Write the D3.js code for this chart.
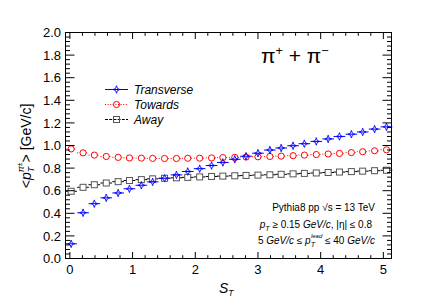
<!DOCTYPE html>
<html><head><meta charset="utf-8">
<script src="https://cdn.jsdelivr.net/npm/d3@7"></script>
<style>body{margin:0;background:#fff} svg{display:block} text{font-family:"Liberation Sans",Arial,Helvetica,sans-serif;fill:#000}</style>
</head><body><svg id="c" width="436" height="305"></svg>
<script>
// ---- data ----
const sT = [0.02,0.21,0.39,0.58,0.77,0.95,1.14,1.32,1.51,1.70,1.88,2.07,2.26,2.44,2.63,2.81,3.00,3.19,3.37,3.56,3.74,3.93,4.12,4.30,4.49,4.67,4.86,5.05];
const transverse = [0.13,0.405,0.485,0.537,0.58,0.617,0.648,0.678,0.71,0.74,0.77,0.795,0.823,0.85,0.878,0.905,0.932,0.96,0.978,0.998,1.016,1.036,1.058,1.08,1.10,1.12,1.145,1.165];
const towards = [0.97,0.935,0.915,0.903,0.895,0.89,0.888,0.886,0.885,0.885,0.887,0.888,0.89,0.893,0.895,0.898,0.90,0.903,0.906,0.91,0.915,0.92,0.925,0.93,0.937,0.945,0.953,0.962];
const away = [0.595,0.63,0.653,0.668,0.68,0.69,0.698,0.705,0.71,0.714,0.718,0.722,0.726,0.729,0.732,0.735,0.738,0.741,0.745,0.749,0.753,0.757,0.761,0.765,0.769,0.773,0.777,0.781];
const binWidth = 0.1857;
const xTickLabels = [0,1,2,3,4,5];
const yTickLabels = [0,0.2,0.4,0.6,0.8,1.0,1.2,1.4,1.6,1.8,2.0];
const seriesNames = ["Transverse","Towards","Away"];

// ---- layout ----
const L=65.5, R=391.5, T=32.5, B=258.5;
const svg = d3.select("#c");
const x = d3.scaleLinear().domain([-0.07,5.13]).range([L,R]);
const y = d3.scaleLinear().domain([0,2]).range([B,T]);

const series = [
  {name:seriesNames[0], vals:transverse, color:"#0000ff", dash:null, marker:"diamond", gap:false},
  {name:seriesNames[1], vals:towards, color:"#ff0000", dash:"1,1.6", marker:"circle", gap:true},
  {name:seriesNames[2], vals:away, color:"#000", dash:"3,1.2", marker:"square", gap:true}
];

function drawMarker(g, type, cx, cy, color){
  if(type==="diamond"){
    g.append("path").attr("d",`M${cx},${cy-3.8}L${cx+1},${cy-1}L${cx+3.4},${cy}L${cx+1},${cy+1}L${cx},${cy+3.8}L${cx-1},${cy+1}L${cx-3.4},${cy}L${cx-1},${cy-1}Z`)
     .attr("fill","none").attr("stroke",color).attr("stroke-width",0.9);
  } else if(type==="circle"){
    g.append("circle").attr("cx",cx).attr("cy",cy).attr("r",3.1)
     .attr("fill","none").attr("stroke",color).attr("stroke-width",1);
  } else {
    g.append("rect").attr("x",cx-3).attr("y",cy-3).attr("width",6).attr("height",6)
     .attr("fill","none").attr("stroke","#555").attr("stroke-width",1);
  }
}

// data
const plot = svg.append("g");
series.slice().reverse().forEach(s=>{
  const g = plot.append("g");
  s.vals.forEach((v,i)=>{
    const cx = x(sT[i]), cy = y(v);
    const x0 = x(sT[i]-binWidth/2), x1 = x(sT[i]+binWidth/2);
    const gp = s.gap ? 3.2 : 0;
    const segs = s.gap ? [[x0,cx-gp],[cx+gp,x1]] : [[x0,x1]];
    segs.forEach(([a,b])=>{
      g.append("line").attr("x1",a).attr("x2",b).attr("y1",cy).attr("y2",cy)
       .attr("stroke",s.color).attr("stroke-width",1).attr("stroke-dasharray",s.dash);
    });
    drawMarker(g, s.marker, cx, cy, s.color);
  });
});

// frame and ticks
const ax = svg.append("g").attr("stroke","#000").attr("stroke-width",1);
ax.append("rect").attr("x",L).attr("y",T).attr("width",R-L).attr("height",B-T).attr("fill","none");
const xMinor = d3.range(0,5.21,0.2).filter(v=>v<=5.13);
xMinor.forEach(v=>{
  const major = Math.abs(v-Math.round(v))<1e-6;
  const len = major?6.5:3.3;
  ax.append("line").attr("x1",x(v)).attr("x2",x(v)).attr("y1",B).attr("y2",B-len);
  ax.append("line").attr("x1",x(v)).attr("x2",x(v)).attr("y1",T).attr("y2",T+len);
});
const yMinor = d3.range(0,2.001,0.04);
yMinor.forEach(v=>{
  const major = Math.abs(v/0.2-Math.round(v/0.2))<1e-6;
  const len = major?9:4.5;
  ax.append("line").attr("x1",L).attr("x2",L+len).attr("y1",y(v)).attr("y2",y(v));
  ax.append("line").attr("x1",R).attr("x2",R-len).attr("y1",y(v)).attr("y2",y(v));
});

// tick labels
svg.append("g").selectAll("text").data(xTickLabels).join("text")
  .attr("x",d=>x(d)).attr("y",274).attr("text-anchor","middle").attr("font-size",13).text(d=>d);
svg.append("g").selectAll("text").data(yTickLabels).join("text")
  .attr("x",61).attr("y",d=>y(d)+4.6).attr("text-anchor","end").attr("font-size",13).text(d=>d3.format(".1f")(d));

// axis titles
const xt = svg.append("text").attr("x",219).attr("y",293).attr("font-size",14);
xt.append("tspan").attr("font-style","italic").text("S");
xt.append("tspan").attr("font-style","italic").attr("font-size",8.5).attr("dy",3).text("T");

const yt = svg.append("text").attr("transform","translate(30.5,146) rotate(-90)").attr("text-anchor","middle").attr("font-size",14);
yt.append("tspan").text("<");
yt.append("tspan").attr("font-style","italic").text("p");
yt.append("tspan").attr("font-style","italic").attr("font-size",9).attr("dy",3.5).text("T");
yt.append("tspan").attr("font-style","italic").attr("font-size",9).attr("dx",-5.5).attr("dy",-10).text("π");
yt.append("tspan").attr("font-size",7).attr("dy",-2.5).text("±");
yt.append("tspan").attr("dy",9).text("> [GeV/c]");

// title
const tt = svg.append("text").attr("x",261).attr("y",63).attr("font-size",21);
tt.append("tspan").text("π");
tt.append("tspan").attr("font-size",12.5).attr("dy",-8.5).text("+");
tt.append("tspan").attr("dy",8.5).text(" + π");
tt.append("tspan").attr("font-size",12.5).attr("dy",-8.5).text("−");

// legend
const lg = svg.append("g");
series.forEach((s,i)=>{
  const ly = 89.5 + i*15;
  const g = lg.append("g");
  g.append("line").attr("x1",105).attr("x2",128).attr("y1",ly).attr("y2",ly)
   .attr("stroke",s.color).attr("stroke-width",1).attr("stroke-dasharray",s.dash);
  drawMarker(g, s.marker, 116.5, ly, s.color);
  g.append("text").attr("x",134).attr("y",ly+4.3).attr("font-size",12).attr("font-style","italic").text(s.name);
});

// annotations
const a1 = svg.append("text").attr("x",375).attr("y",211).attr("text-anchor","end").attr("font-size",10);
a1.append("tspan").text("Pythia8 pp √s = 13 TeV");
const a2 = svg.append("text").attr("x",372).attr("y",227.5).attr("text-anchor","end").attr("font-size",10);
a2.append("tspan").attr("font-style","italic").text("p");
a2.append("tspan").attr("font-style","italic").attr("font-size",7).attr("dy",3).text("T");
a2.append("tspan").attr("dy",-3).text(" ≥ 0.15 ");
a2.append("tspan").attr("font-style","italic").text("GeV/c");
a2.append("tspan").text(", |η| ≤ 0.8");
const a3 = svg.append("text").attr("x",375).attr("y",244).attr("text-anchor","end").attr("font-size",10);
a3.append("tspan").text("5 ");
a3.append("tspan").attr("font-style","italic").text("GeV/c");
a3.append("tspan").text(" ≤   ");
a3.append("tspan").attr("font-style","italic").text("p");
a3.append("tspan").attr("font-style","italic").attr("font-size",7).attr("dy",3).text("T");
a3.append("tspan").attr("font-style","italic").attr("font-size",6).attr("dx",-4).attr("dy",-9).text("lead");
a3.append("tspan").attr("dy",6).text(" ≤ 40 ");
a3.append("tspan").attr("font-style","italic").text("GeV/c");
</script></body></html>
